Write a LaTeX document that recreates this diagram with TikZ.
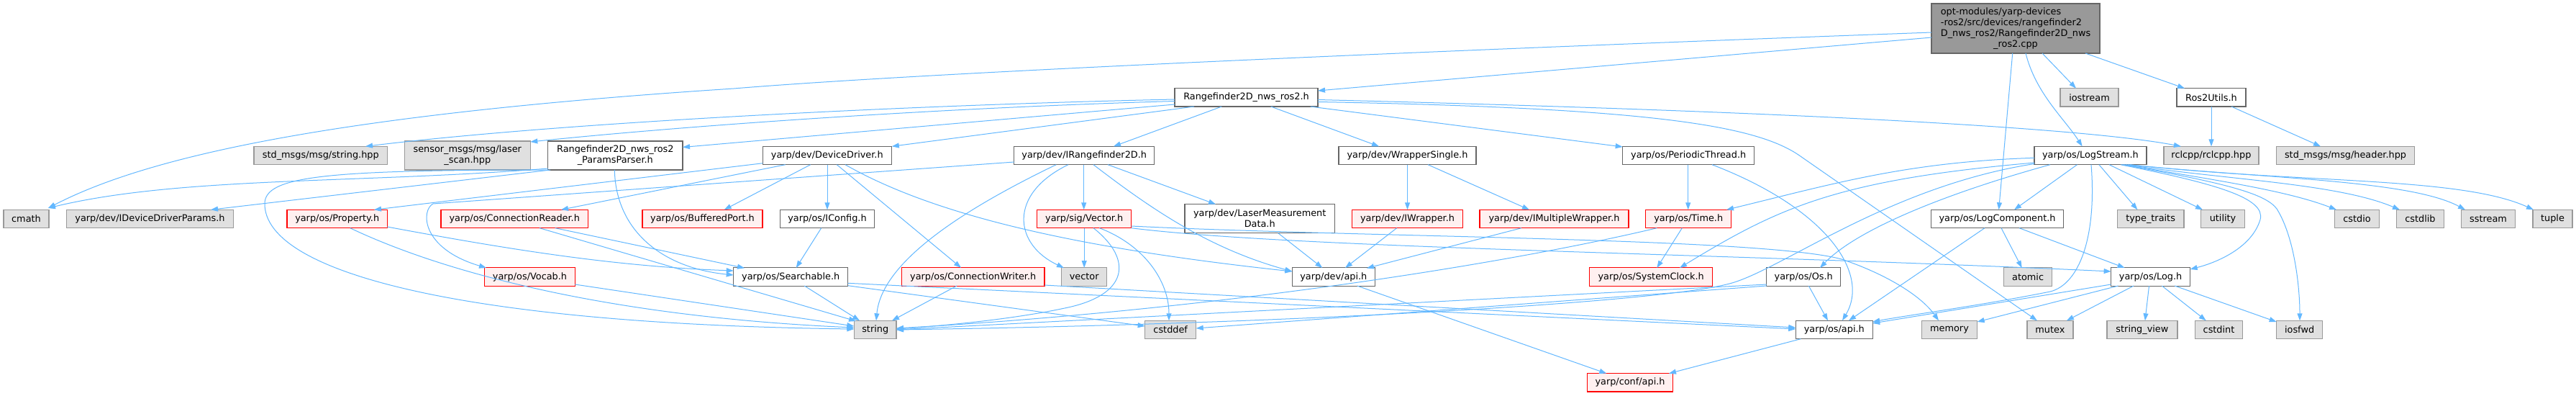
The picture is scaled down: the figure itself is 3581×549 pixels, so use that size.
\documentclass[tikz,border=0pt]{standalone}
\usepackage{fontspec}
\setmainfont{DejaVu Sans}
\usetikzlibrary{arrows.meta,calc}
\definecolor{eblue}{HTML}{63B8FF}
\definecolor{bgray}{HTML}{666666}
\definecolor{egray}{HTML}{999999}
\definecolor{efill}{HTML}{E0E0E0}
\definecolor{tfill}{HTML}{FFF0F0}
\definecolor{tborder}{HTML}{FF0000}
\definecolor{rfill}{HTML}{999999}
\newcommand\nodefont{\fontsize{12.85}{15}\selectfont}
\newcommand\gnode[7]{\node[#1,minimum width=#5pt,minimum height=#6pt] (#2) at (#3,#4) {#7};}
\newcommand\ed[6]{\draw[conn] ($(#1)+(#2,#3)$) -- ($(#4)+(#5,#6)$);}
\begin{document}
\begin{tikzpicture}[x=1pt,y=-1pt,
 nb/.style={draw=bgray, fill=white, line width=1.2pt, inner sep=0pt, font=\nodefont, align=center},
 ext/.style={nb, draw=egray, fill=efill},
 trunc/.style={nb, draw=tborder, fill=tfill},
 rootn/.style={nb, fill=rfill, draw=bgray},
 conn/.style={draw=eblue, line width=1pt, -{Triangle[length=10pt,width=7pt]}}]
\fill[white] (0,0) rectangle (3581,549);
\useasboundingbox (0,0) rectangle (3581,549);

\gnode{rootn}{T}{2802}{39.5}{234}{69}{\begin{tabular}{@{}l@{}}opt-modules/yarp-devices\\-ros2/src/devices/rangefinder2\\D\_nws\_ros2/Rangefinder2D\_nws\\\multicolumn{1}{@{}c@{}}{\_ros2.cpp}\end{tabular}}
\gnode{nb}{R}{1732.5}{135.3}{199}{25.5}{Rangefinder2D\_nws\_ros2.h}
\gnode{ext}{iostream}{2904.5}{135.3}{81}{25.5}{iostream}
\gnode{nb}{ros2u}{3074}{135.3}{96}{25.5}{Ros2Utils.h}
\gnode{ext}{strhpp}{445.8}{216}{185.7}{25.5}{std\_msgs/msg/string.hpp}
\gnode{ext}{laser}{649.8}{216}{175}{40}{sensor\_msgs/msg/laser\\\_scan.hpp}
\gnode{nb}{pparser}{855.3}{216}{187.3}{40}{Rangefinder2D\_nws\_ros2\\\_ParamsParser.h}
\gnode{nb}{dd}{1149.8}{216}{179}{25.5}{yarp/dev/DeviceDriver.h}
\gnode{nb}{irf}{1507.2}{216}{195}{25.5}{yarp/dev/IRangefinder2D.h}
\gnode{nb}{wsingle}{1956.5}{216}{191}{25.5}{yarp/dev/WrapperSingle.h}
\gnode{nb}{pthread}{2347.2}{216}{183}{25.5}{yarp/os/PeriodicThread.h}
\gnode{nb}{logstream}{2905.9}{216}{156}{25.5}{yarp/os/LogStream.h}
\gnode{ext}{rclcpp}{3073.9}{216}{132}{25.5}{rclcpp/rclcpp.hpp}
\gnode{ext}{header}{3260.5}{216}{192}{25.5}{std\_msgs/msg/header.hpp}
\gnode{ext}{cmath}{36.5}{304}{63}{25.5}{cmath}
\gnode{ext}{iddp}{208.5}{304}{232.4}{25.5}{yarp/dev/IDeviceDriverParams.h}
\gnode{trunc}{property}{468.7}{304}{139.3}{25.5}{yarp/os/Property.h}
\gnode{trunc}{connreader}{715.2}{304}{204.3}{25.5}{yarp/os/ConnectionReader.h}
\gnode{trunc}{bufport}{976.5}{304}{167}{25.5}{yarp/os/BufferedPort.h}
\gnode{nb}{iconfig}{1150}{304}{130.6}{25.5}{yarp/os/IConfig.h}
\gnode{trunc}{vectorh}{1507.2}{304}{131}{25.5}{yarp/sig/Vector.h}
\gnode{nb}{lmd}{1751.2}{303.7}{208.3}{40}{yarp/dev/LaserMeasurement\\Data.h}
\gnode{trunc}{iwrapper}{1956.5}{304}{153.6}{25.5}{yarp/dev/IWrapper.h}
\gnode{trunc}{imw}{2160.5}{304}{207}{25.5}{yarp/dev/IMultipleWrapper.h}
\gnode{trunc}{time}{2347.2}{304}{119}{25.5}{yarp/os/Time.h}
\gnode{nb}{logcomp}{2776.5}{304}{184.3}{25.5}{yarp/os/LogComponent.h}
\gnode{ext}{typetraits}{2989.6}{304}{92.8}{25.5}{type\_traits}
\gnode{ext}{utility}{3090}{304}{60.7}{25.5}{utility}
\gnode{ext}{cstdio}{3276.5}{304}{62}{25.5}{cstdio}
\gnode{ext}{cstdlib}{3364.4}{304}{65.6}{25.5}{cstdlib}
\gnode{ext}{sstream}{3459}{304}{75}{25.5}{sstream}
\gnode{ext}{tuple}{3548.5}{304}{55}{25.5}{tuple}
\gnode{trunc}{vocab}{736.5}{384.5}{125.6}{25.5}{yarp/os/Vocab.h}
\gnode{nb}{searchable}{1099.2}{384.5}{159}{25.5}{yarp/os/Searchable.h}
\gnode{trunc}{connwriter}{1352.7}{384.5}{198.7}{25.5}{yarp/os/ConnectionWriter.h}
\gnode{ext}{vector}{1507.2}{384.5}{63}{25.5}{vector}
\gnode{nb}{devapi}{1853.8}{384.5}{115}{25.5}{yarp/dev/api.h}
\gnode{trunc}{sysclock}{2295.2}{384.5}{171}{25.5}{yarp/os/SystemClock.h}
\gnode{nb}{os}{2507.2}{384.5}{103}{25.5}{yarp/os/Os.h}
\gnode{ext}{atomic}{2819.1}{384.5}{66.8}{25.5}{atomic}
\gnode{nb}{log}{2989.6}{384.5}{110}{25.5}{yarp/os/Log.h}
\gnode{ext}{string}{1216.7}{458}{58.7}{25.5}{string}
\gnode{ext}{cstddef}{1627.2}{458}{71}{25.5}{cstddef}
\gnode{nb}{osapi}{2549.8}{458}{107}{25.5}{yarp/os/api.h}
\gnode{ext}{memory}{2710}{458}{77}{25.5}{memory}
\gnode{ext}{mutex}{2849.9}{458}{64}{25.5}{mutex}
\gnode{ext}{stringview}{2977.9}{458}{98}{25.5}{string\_view}
\gnode{ext}{cstdint}{3084.5}{458}{66.7}{25.5}{cstdint}
\gnode{ext}{iosfwd}{3196.6}{458}{64}{25.5}{iosfwd}
\gnode{trunc}{confapi}{2266}{531.3}{118.6}{25.5}{yarp/conf/api.h}

% top file
\ed{T}{-117}{12.5}{R}{99.5}{-9.3}
\draw[conn] ($(T)+(-117,5.5)$) .. controls (2000,70) and (1300,100) .. (1020,123) .. controls (450,160) and (200,220) .. ($(cmath)+(30.5,-15)$);
\ed{T}{37}{34.5}{iostream}{-18.5}{-12.6}
\ed{T}{97}{34.5}{ros2u}{-37}{-12.6}
\draw[conn] ($(T)+(14,34.5)$) .. controls (2830,130) and (2870,165) .. ($(logstream)+(-11.3,-12.7)$);
\ed{T}{-4.3}{34.5}{logcomp}{2.1}{-12.7}
% Rangefinder2D_nws_ros2.h
\draw[conn] ($(R)+(-99.5,2.7)$) .. controls (1300,145) and (800,168) .. ($(strhpp)+(62.2,-12.7)$);
\draw[conn] ($(R)+(-99.5,5.2)$) .. controls (1300,150) and (950,175) .. ($(laser)+(87.5,-19)$);
\ed{R}{-99.5}{9.7}{pparser}{93.7}{-11.5}
\ed{R}{-72.5}{12.7}{dd}{90}{-12.7}
\ed{R}{-34.2}{12.7}{irf}{40.8}{-12.7}
\ed{R}{34.2}{12.7}{wsingle}{-39.5}{-12.7}
\ed{R}{89.2}{12.7}{pthread}{-91.5}{-12}
\draw[conn] ($(R)+(99.5,3.2)$) .. controls (2500,155) and (2900,178) .. ($(rclcpp)+(-42,-12.7)$);
\draw[conn] ($(R)+(99.5,6.2)$) .. controls (2300,150) and (2440,175) .. (2500,215) -- ($(mutex)+(-18,-12.7)$);
% ParamsParser
\draw[conn] ($(pparser)+(-93.3,18)$) .. controls (500,255) and (250,245) .. ($(cmath)+(30.5,-15)$);
\draw[conn] ($(pparser)+(-93.3,20)$) .. controls (450,236) and (368,245) .. (368,283) .. controls (368,380) and (650,450) .. ($(string)+(-29.4,-1)$);
\ed{pparser}{-90.3}{20}{iddp}{84.5}{-12.7}
\draw[conn] ($(pparser)+(-1,20)$) .. controls (856,320) and (920,372) .. ($(searchable)+(-79.5,-2.5)$);
% DeviceDriver
\ed{dd}{-89.5}{10.7}{property}{51.3}{-12.7}
\ed{dd}{-58.1}{12.7}{connreader}{64.8}{-12.7}
\ed{dd}{-23.1}{12.7}{bufport}{30.2}{-12.7}
\ed{dd}{0.2}{12.7}{iconfig}{0}{-12.7}
\ed{dd}{13.5}{12.7}{connwriter}{-16.7}{-12.7}
\draw[conn] ($(dd)+(25.2,12.7)$) .. controls (1300,300) and (1500,345) .. ($(devapi)+(-57.5,-7.5)$);
% IRangefinder2D
\draw[conn] ($(irf)+(-97.5,9)$) -- (602,283) .. controls (585,292) and (585,345) .. ($(vocab)+(-60.5,-12.5)$);
\draw[conn] ($(irf)+(-38.9,12.7)$) .. controls (1320,300) and (1225,370) .. ($(string)+(1.3,-12.7)$);
\draw[conn] ($(irf)+(-22.2,12.7)$) .. controls (1400,270) and (1410,340) .. ($(vector)+(-28.2,-12.5)$);
\ed{irf}{-0.5}{12.7}{vectorh}{-0.5}{-12.7}
\draw[conn] ($(irf)+(12.8,12.7)$) .. controls (1600,290) and (1680,345) .. ($(devapi)+(-57.5,-7.5)$);
\ed{irf}{32.8}{12.7}{lmd}{-61.2}{-20}
% WrapperSingle, PeriodicThread
\ed{wsingle}{0}{12.7}{iwrapper}{0}{-12.7}
\ed{wsingle}{28.5}{12.7}{imw}{-34.5}{-12.7}
\ed{pthread}{-0.5}{12.7}{time}{-0.5}{-12.7}
\draw[conn] ($(pthread)+(32.8,12.7)$) .. controls (2540,290) and (2600,380) .. ($(osapi)+(11.2,-12.7)$);
% to dev/api.h
\ed{lmd}{25.5}{20}{devapi}{-15.5}{-12.5}
\ed{iwrapper}{-14.8}{12.7}{devapi}{16.2}{-12.5}
\ed{imw}{-45.5}{12.7}{devapi}{46.2}{-12}
% Vector.h
\ed{vectorh}{0}{12.7}{vector}{0}{-12.5}
\draw[conn] ($(vectorh)+(12.8,12.7)$) .. controls (1575,360) and (1570,410) .. (1480,428) .. controls (1400,445) and (1300,453) .. ($(string)+(29.3,-1)$);
\draw[conn] ($(vectorh)+(21.1,12.7)$) .. controls (1590,340) and (1625,390) .. ($(cstddef)+(-2.2,-12.7)$);
\draw[conn] ($(vectorh)+(65.5,12.7)$) .. controls (1800,345) and (2400,352) .. ($(log)+(-55,-7.5)$);
\draw[conn] ($(vectorh)+(65.5,10)$) .. controls (1900,330) and (2450,330) .. (2560,360) .. controls (2620,380) and (2670,410) .. ($(memory)+(-15,-12.7)$);
% Time.h
\ed{time}{-8.9}{12.7}{sysclock}{8.1}{-12.5}
\draw[conn] ($(time)+(-43.9,12.7)$) .. controls (2100,365) and (1700,430) .. ($(string)+(29.3,-2)$);
% LogStream.h
\draw[conn] ($(logstream)+(-78,3.3)$) .. controls (2650,225) and (2550,255) .. ($(time)+(52.8,-12.7)$);
\draw[conn] ($(logstream)+(-78,10)$) .. controls (2550,250) and (2470,290) .. ($(sysclock)+(39.8,-12.5)$);
\draw[conn] ($(logstream)+(-78,11.5)$) .. controls (2620,260) and (2470,380) .. (2400,395) .. controls (2300,420) and (1800,450) .. ($(string)+(29.3,0)$);
\draw[conn] ($(logstream)+(-55.9,12.7)$) .. controls (2700,270) and (2580,320) .. ($(os)+(22.8,-12.5)$);
\ed{logstream}{-18.4}{12.7}{logcomp}{23.5}{-12.7}
\draw[conn] ($(logstream)+(1.1,12.7)$) .. controls (2915,330) and (2890,395) .. (2850,405) .. controls (2750,425) and (2650,438) .. ($(osapi)+(53.4,-11)$);
\ed{logstream}{12}{12.7}{typetraits}{-18.2}{-12.7}
\ed{logstream}{26.1}{12.7}{utility}{-28}{-12.7}
\draw[conn] ($(logstream)+(46,12.7)$) .. controls (3080,250) and (3180,265) .. ($(cstdio)+(-28.5,-12.7)$);
\draw[conn] ($(logstream)+(49,12.7)$) .. controls (3100,250) and (3250,255) .. ($(cstdlib)+(-28.4,-12.7)$);
\draw[conn] ($(logstream)+(52,12.7)$) .. controls (3150,248) and (3350,250) .. ($(sstream)+(-32,-12.7)$);
\draw[conn] ($(logstream)+(55,12.7)$) .. controls (3200,255) and (3420,245) .. ($(tuple)+(-26.5,-12.7)$);
\draw[conn] ($(logstream)+(42,12.7)$) .. controls (3080,255) and (3150,275) .. (3142,305) .. controls (3130,345) and (3080,365) .. ($(log)+(55,-10.5)$);
\draw[conn] ($(logstream)+(44,12.7)$) .. controls (3100,255) and (3150,270) .. (3165,290) .. controls (3190,330) and (3197,400) .. ($(iosfwd)+(0.4,-12.7)$);
% LogComponent, Os, Log
\ed{logcomp}{-17.5}{12.7}{osapi}{20.2}{-12.7}
\ed{logcomp}{5.5}{12.7}{atomic}{-8.4}{-12.5}
\ed{logcomp}{30.5}{12.7}{log}{-36}{-12.5}
\ed{os}{7.1}{12.5}{osapi}{-8.8}{-12.7}
\ed{os}{-51.5}{10.5}{string}{29.3}{0}
\ed{os}{-51.5}{12.5}{cstddef}{35.5}{-2}
\ed{log}{-55}{10.5}{osapi}{53.4}{-9}
\ed{log}{-45}{12.5}{memory}{38.6}{-11}
\ed{log}{-23.6}{12.5}{mutex}{23}{-12.7}
\ed{log}{-2.1}{12.5}{stringview}{4}{-12.7}
\ed{log}{15.8}{12.5}{cstdint}{-17.8}{-12.7}
\ed{log}{33.6}{12.5}{iosfwd}{-32}{-11}
\ed{osapi}{-46.5}{12.7}{confapi}{54}{-12.6}
\ed{devapi}{32.9}{12.5}{confapi}{-32.7}{-12.6}
\ed{ros2u}{0}{12.7}{rclcpp}{0.1}{-12.7}
\ed{ros2u}{27.9}{12.7}{header}{-34.5}{-12.7}
% Property, ConnectionReader, Vocab, Searchable, ConnectionWriter, IConfig
\draw[conn] ($(property)+(69.6,11)$) .. controls (700,345) and (850,370) .. ($(searchable)+(-79.5,-8.5)$);
\draw[conn] ($(property)+(18,12.7)$) .. controls (620,380) and (850,440) .. ($(string)+(-29.4,-3)$);
\ed{connreader}{56.5}{12.7}{searchable}{-64.2}{-12.2}
\ed{connreader}{34.8}{12.7}{string}{-26.7}{-12}
\ed{vocab}{62.8}{10.5}{string}{-29.4}{-5}
\ed{searchable}{19.1}{12.5}{string}{-21.7}{-12.7}
\ed{searchable}{79.5}{8.8}{osapi}{-53.5}{-1}
\ed{searchable}{79.5}{12.2}{cstddef}{-35.5}{-5}
\ed{connwriter}{-22.7}{12.5}{string}{23.3}{-12.7}
\ed{connwriter}{99.3}{11.5}{osapi}{-53.5}{-3}
\ed{iconfig}{-8.3}{12.7}{searchable}{7.5}{-12.5}
\end{tikzpicture}
\end{document}
